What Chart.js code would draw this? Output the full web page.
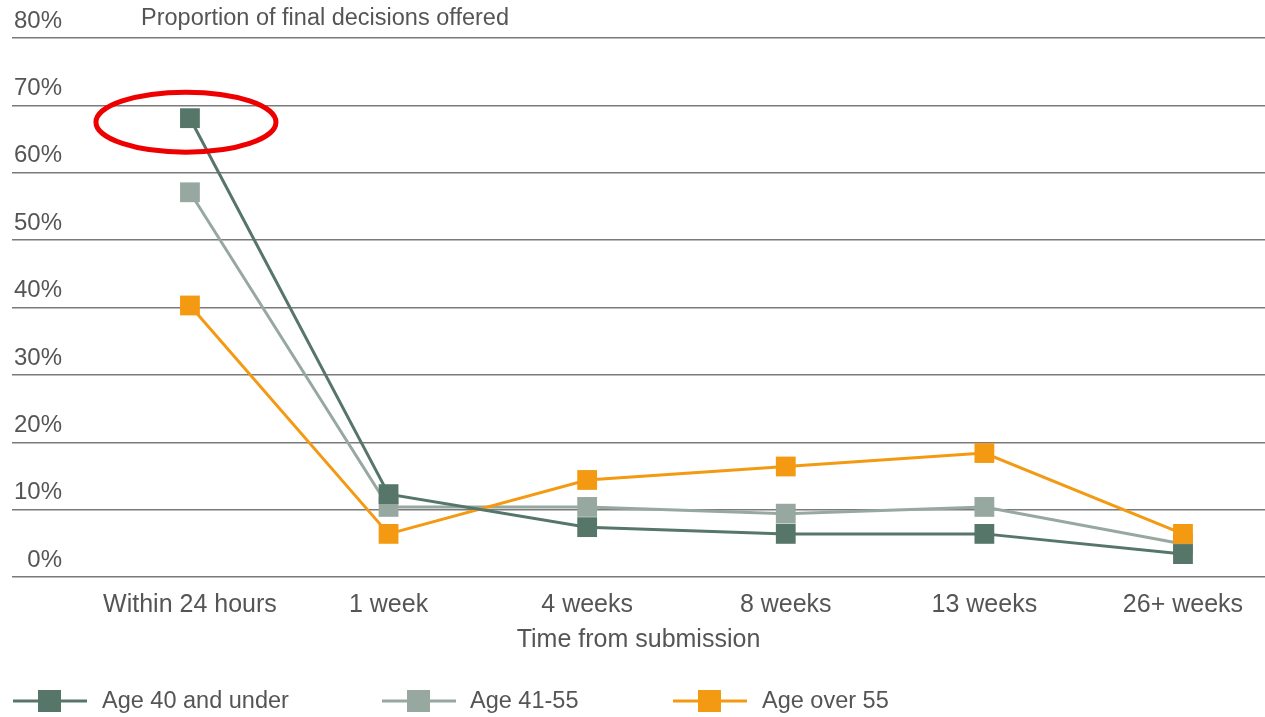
<!DOCTYPE html>
<html>
<head>
<meta charset="utf-8">
<script src="https://cdn.jsdelivr.net/npm/chart.js@4"></script>
<style>
  html, body { margin: 0; padding: 0; background: #fff; overflow: hidden; }
  canvas { display: block; }
</style>
</head>
<body>
<canvas id="chart" width="1265" height="717"></canvas>
<script>
// data
const categories = ['Within 24 hours', '1 week', '4 weeks', '8 weeks', '13 weeks', '26+ weeks'];
const under40 = [68.1, 12.3, 7.4, 6.4, 6.4, 3.4];
const age41to55 = [57.1, 10.4, 10.4, 9.4, 10.4, 4.9];
const over55 = [40.3, 6.4, 14.4, 16.4, 18.4, 6.4];
const yTicks = [0, 10, 20, 30, 40, 50, 60, 70, 80];

const FONT = "'Liberation Sans', Arial, sans-serif";
const TEXT = '#555';

// turn the arrays into {x, y} points on a linear x axis
const toPoints = arr => arr.map((v, i) => ({ x: i, y: v }));

// draws the top-left caption, the red ring and the line+square legend
const extras = {
  id: 'extras',
  afterDraw(chart) {
    const ctx = chart.ctx;
    const xs = chart.scales.x, ys = chart.scales.y;
    ctx.save();
    ctx.font = '23.5px ' + FONT;
    ctx.fillStyle = TEXT;
    ctx.textBaseline = 'middle';
    ctx.textAlign = 'left';
    ctx.fillText('Proportion of final decisions offered', 141, 19);

    // red ring around the first point of the first series
    const px = xs.getPixelForValue(0), py = ys.getPixelForValue(under40[0]);
    ctx.beginPath();
    ctx.ellipse(px - 4, py + 4, 90, 30, 0, 0, Math.PI * 2);
    ctx.strokeStyle = '#ee0000';
    ctx.lineWidth = 5;
    ctx.stroke();

    // legend
    const items = [[13, 102], [382, 470], [673, 762]];
    chart.data.datasets.forEach((ds, i) => {
      const [lx, tx] = items[i];
      const ly = 701;
      ctx.strokeStyle = ds.borderColor;
      ctx.lineWidth = 3;
      ctx.beginPath();
      ctx.moveTo(lx, ly);
      ctx.lineTo(lx + 74, ly);
      ctx.stroke();
      ctx.fillStyle = ds.borderColor;
      ctx.fillRect(lx + 25, ly - 11, 23, 22);
      ctx.fillStyle = TEXT;
      ctx.fillText(ds.label, tx, ly + 1);
    });
    ctx.restore();
  }
};

const ds = (label, data, color, order) => ({
  label: label,
  data: toPoints(data),
  borderColor: color,
  backgroundColor: color,
  borderWidth: 3,
  pointStyle: 'rect',
  pointRadius: 14,
  pointBorderWidth: 0,
  order: order
});

new Chart(document.getElementById('chart'), {
  type: 'line',
  data: {
    datasets: [
      ds('Age 40 and under', under40, '#56766a', 0),
      ds('Age 41-55', age41to55, '#97a8a1', 2),
      ds('Age over 55', over55, '#f39a12', 1)
    ]
  },
  options: {
    responsive: false,
    animation: false,
    layout: { autoPadding: false, padding: { top: 38, left: 8, right: 0, bottom: 62 } },
    plugins: { legend: { display: false }, tooltip: { enabled: false } },
    scales: {
      x: {
        type: 'linear',
        min: -0.896,
        max: 5.413,
        afterBuildTicks: s => { s.ticks = categories.map((c, i) => ({ value: i })); },
        afterFit: s => { s.paddingLeft = 0; s.paddingRight = 0; },
        grid: { display: false },
        border: { display: false },
        ticks: {
          autoSkip: false,
          maxRotation: 0,
          padding: 5,
          color: TEXT,
          font: { family: FONT, size: 25 },
          callback: v => categories[v]
        },
        title: {
          display: true,
          text: 'Time from submission',
          color: TEXT,
          font: { family: FONT, size: 25 },
          padding: { top: 0, bottom: 0 }
        }
      },
      y: {
        min: 0,
        max: 80,
        afterBuildTicks: s => { s.ticks = yTicks.map(v => ({ value: v })); },
        grid: { color: '#7a7a7a', lineWidth: 1.5, drawTicks: false },
        border: { display: false },
        ticks: {
          mirror: true,
          crossAlign: 'far',
          padding: 2,
          labelOffset: -17,
          color: TEXT,
          font: { family: FONT, size: 24 },
          callback: v => v + '%'
        }
      }
    }
  },
  plugins: [extras]
});
</script>
</body>
</html>
